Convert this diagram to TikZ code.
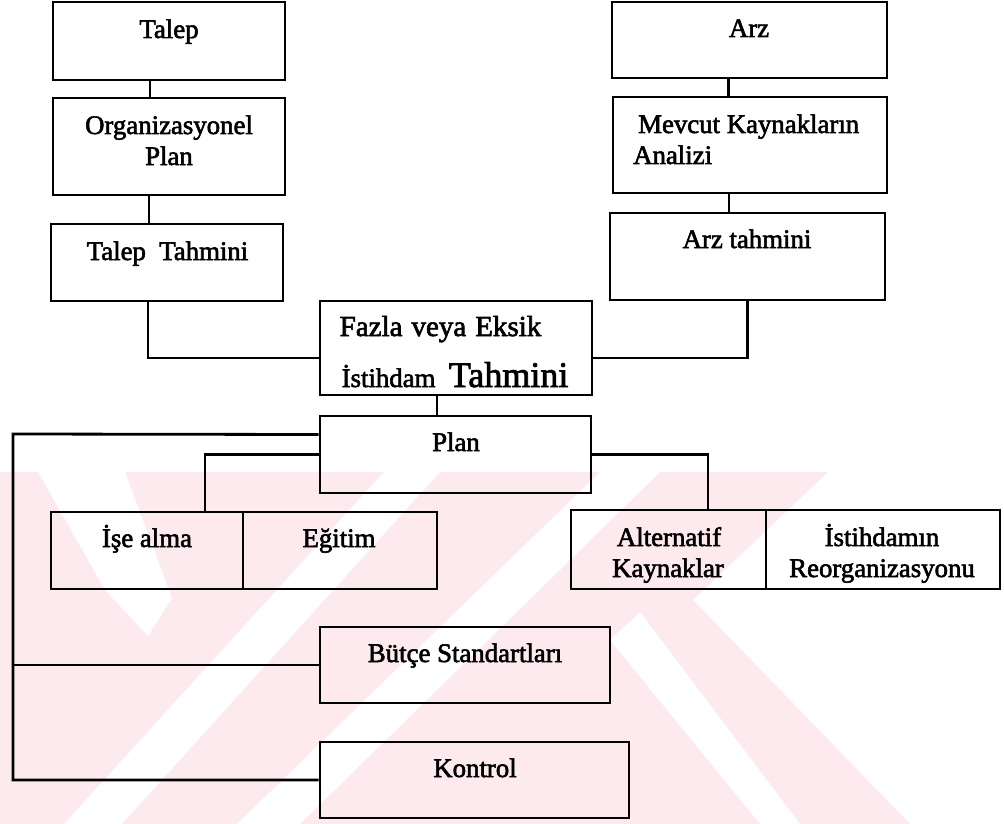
\documentclass[tikz,border=0pt]{standalone}
\usepackage{fontspec}
\setmainfont{Liberation Serif}[FakeBold=2.2]
\definecolor{wmpink}{HTML}{FDEAEE}
\tikzset{
  box/.style={draw, line width=2.8pt, inner sep=0pt, rectangle},
  link/.style={line width=2.8pt, line join=miter},
  lbl/.style={inner sep=0pt, font=\fontsize{26.8}{32}\selectfont},
}
\begin{document}
\begin{tikzpicture}[x=1pt, y=-1pt]
\useasboundingbox (0,0) rectangle (1004,824);

% faint background emblem
\begin{scope}
  \clip (0,472) -- (828,472) -- (693,600) -- (910,824) -- (0,824) -- cycle;
  \fill[wmpink] (0,472) rectangle (1004,824);
  \fill[white] (38,472) -- (125,472) -- (172,598) -- (148,636) -- (105,590) -- cycle;
  \fill[white] (64,824) -- (122,824) -- (440,472) -- (384,472) -- cycle;
  \fill[white] (237,824) -- (300,824) -- (660,472) -- (600,472) -- cycle;
  \fill[white] (610,640) -- (640,612) -- (800,824) -- (760,824) -- cycle;
\end{scope}

% boxes
\node[box, minimum width=232pt, minimum height=78pt] (talep)  at (169,41)    {};
\node[box, minimum width=232pt, minimum height=97pt] (org)    at (169,146.5) {};
\node[box, minimum width=232pt, minimum height=77pt] (ttah)   at (167,262.5) {};
\node[box, minimum width=275pt, minimum height=76pt] (arz)    at (749.5,40)  {};
\node[box, minimum width=274pt, minimum height=96pt] (mevcut) at (750,145)   {};
\node[box, minimum width=275pt, minimum height=87pt] (arzt)   at (747.5,256.5) {};
\node[box, minimum width=272pt, minimum height=94pt] (fazla)  at (456,348)   {};
\node[box, minimum width=271pt, minimum height=77pt] (plan)   at (455.5,454.5) {};
\node[box, minimum width=192pt, minimum height=77pt] (ise)    at (147,550.5) {};
\node[box, minimum width=194pt, minimum height=77pt] (egitim) at (340,550.5) {};
\node[box, minimum width=195pt, minimum height=79pt] (alt)    at (668.5,549.5) {};
\node[box, minimum width=234pt, minimum height=79pt] (istr)   at (883,549.5) {};
\node[box, minimum width=290pt, minimum height=76pt] (butce)  at (465,665)   {};
\node[box, minimum width=309pt, minimum height=76pt] (kontrol) at (474.5,780) {};

% texts
\node[lbl, anchor=base] (t-talep) at (169,38) {Talep};
\node[lbl, anchor=base] (t-org1) at (169,134) {Organizasyonel};
\node[lbl, anchor=base] (t-org2) at (169,165) {Plan};
\node[lbl, anchor=base] (t-ttah) at (167.5,260) {Talep\ \ Tahmini};
\node[lbl, anchor=base] (t-arz) at (749,37) {Arz};
\node[lbl, anchor=base west] (t-mev1) at (638,133) {Mevcut Kaynakların};
\node[lbl, anchor=base west] (t-mev2) at (633,164) {Analizi};
\node[lbl, anchor=base] (t-arzt) at (747,248) {Arz tahmini};
\node[lbl, anchor=base, font=\fontsize{29}{34}\selectfont] (t-faz1) at (440.5,336)
  {Fazla\hspace{9pt}veya\hspace{9pt}Eksik};
\node[lbl, anchor=base] (t-faz2) at (455,387) {İstihdam\ \ {\fontsize{36}{40}\selectfont Tahmini}};
\node[lbl, anchor=base] (t-plan) at (456,451) {Plan};
\node[lbl, anchor=base] (t-ise) at (147,547) {İşe alma};
\node[lbl, anchor=base] (t-egi) at (339,547) {Eğitim};
\node[lbl, anchor=base] (t-alt1) at (669,546) {Alternatif};
\node[lbl, anchor=base] (t-alt2) at (668,577) {Kaynaklar};
\node[lbl, anchor=base] (t-ist1) at (882,546) {İstihdamın};
\node[lbl, anchor=base] (t-ist2) at (882,577) {Reorganizasyonu};
\node[lbl, anchor=base] (t-but) at (465,662) {Bütçe Standartları};
\node[lbl, anchor=base] (t-kon) at (475,777) {Kontrol};

% connectors
\coordinate (rail) at (13,434);
\draw[link] ([xshift=-19pt]talep.south) -- ([xshift=-19pt]talep.south |- org.north);
\draw[link] ([xshift=-20pt]org.south) -- ([xshift=-20pt]org.south |- ttah.north);
\draw[link] ([xshift=-19pt]ttah.south) |- ([yshift=-10pt]fazla.west);
\draw[link] ([xshift=-21pt]arz.south) -- ([xshift=-21pt]arz.south |- mevcut.north);
\draw[link] ([xshift=-21pt]mevcut.south) -- ([xshift=-21pt]mevcut.south |- arzt.north);
\draw[link] (arzt.south) |- ([yshift=-10pt]fazla.east);
\draw[link] ([xshift=-19pt]fazla.south) -- ([xshift=-19pt]fazla.south |- plan.north);
\draw[link] ([yshift=20pt]plan.west) -- (rail) -- (rail |- kontrol.west) -- (kontrol.west);
\draw[link] (rail |- butce.west) -- (butce.west);
\draw[link] (plan.west) -| ([xshift=58pt]ise.north);
\draw[link] (plan.east) -| ([xshift=39.5pt]alt.north);
\end{tikzpicture}
\end{document}
